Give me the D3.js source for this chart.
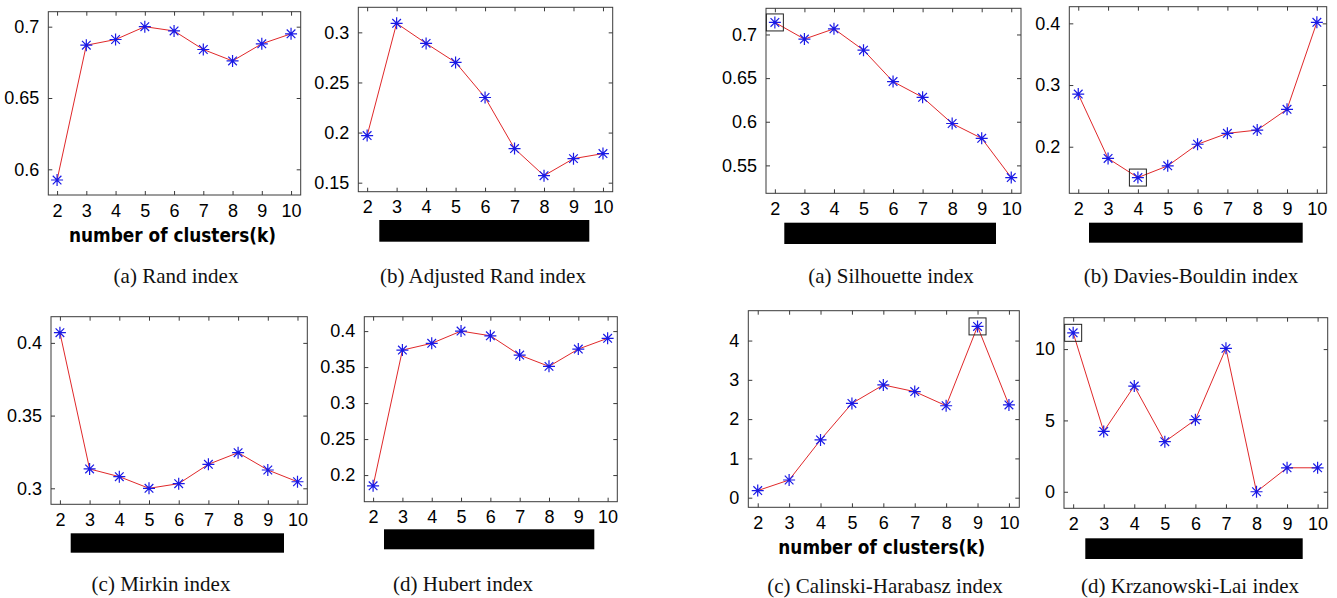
<!DOCTYPE html>
<html>
<head>
<meta charset="utf-8">
<script src="https://cdn.jsdelivr.net/npm/d3@7/dist/d3.min.js"></script>
<style>
  html, body { margin: 0; padding: 0; background: #fff; }
  svg { display: block; }
</style>
</head>
<body>
<svg id="chart" width="1337" height="598"></svg>
<script>
// Number of clusters evaluated
const kValues = [2, 3, 4, 5, 6, 7, 8, 9, 10];

// External validity indices
const randIndex = [0.5925, 0.687, 0.691, 0.700, 0.697, 0.684, 0.676, 0.688, 0.695];
const adjustedRand = [0.197, 0.309, 0.289, 0.270, 0.235, 0.184, 0.157, 0.174, 0.179];
const mirkinIndex = [0.407, 0.3133, 0.308, 0.300, 0.3032, 0.3165, 0.3245, 0.3126, 0.3045];
const hubertIndex = [0.185, 0.3736, 0.383, 0.400, 0.3935, 0.3667, 0.351, 0.375, 0.390];

// Internal validity indices
const silhouetteIndex = [0.7138, 0.6947, 0.7065, 0.682, 0.646, 0.628, 0.598, 0.581, 0.536];
const daviesBouldin = [0.2854, 0.181, 0.150, 0.169, 0.204, 0.2217, 0.227, 0.2607, 0.4016];
const calinskiHarabasz = [0.18, 0.45, 1.47, 2.40, 2.87, 2.70, 2.34, 4.36, 2.36];
const krzanowskiLai = [11.14, 4.23, 7.41, 3.51, 5.05, 10.05, 0.0, 1.68, 1.68];

// Tick labels on the value axes
const randTicks = [0.6, 0.65, 0.7];
const adjustedRandTicks = [0.15, 0.2, 0.25, 0.3];
const mirkinTicks = [0.3, 0.35, 0.4];
const hubertTicks = [0.2, 0.25, 0.3, 0.35, 0.4];
const silhouetteTicks = [0.55, 0.6, 0.65, 0.7];
const daviesBouldinTicks = [0.2, 0.3, 0.4];
const calinskiTicks = [0, 1, 2, 3, 4];
const krzanowskiTicks = [0, 5, 10];

// Panel captions
const captions = [
  "(a) Rand index", "(b) Adjusted Rand index", "(c) Mirkin index", "(d) Hubert index",
  "(a) Silhouette index", "(b) Davies-Bouldin index", "(c) Calinski-Harabasz index", "(d) Krzanowski-Lai index"
];
const xAxisTitle = "number of clusters(k)";

// Panel layout: plot box, value range, and decorations
const panels = [
  { values: randIndex, ticks: randTicks, caption: captions[0],
    box: [48.3, 300.7, 11.7, 195], yDom: [0.582, 0.7105], title: true, bar: null,
    capX: 176, capY: 283, best: null },
  { values: adjustedRand, ticks: adjustedRandTicks, caption: captions[1],
    box: [358.3, 612.7, 7.3, 191.7], yDom: [0.141, 0.325], title: false,
    bar: [379.3, 220, 210, 21.7], capX: 483, capY: 283, best: null },
  { values: silhouetteIndex, ticks: silhouetteTicks, caption: captions[4],
    box: [766, 1021, 8.3, 193.3], yDom: [0.518, 0.730], title: false,
    bar: [784.3, 222.7, 211.7, 21.3], capX: 891, capY: 283, best: 0 },
  { values: daviesBouldin, ticks: daviesBouldinTicks, caption: captions[5],
    box: [1069.3, 1326.7, 6.7, 193.3], yDom: [0.1245, 0.427], title: false,
    bar: [1089, 222.7, 213.7, 20], capX: 1191, capY: 283, best: 2 },
  { values: mirkinIndex, ticks: mirkinTicks, caption: captions[2],
    box: [51, 307.3, 316.7, 504.3], yDom: [0.289, 0.418], title: false,
    bar: [70.7, 533.3, 213.3, 19.4], capX: 161, capY: 591, best: null },
  { values: hubertIndex, ticks: hubertTicks, caption: captions[3],
    box: [364.3, 617.3, 316.7, 501.7], yDom: [0.163, 0.42], title: false,
    bar: [384, 529.3, 210.3, 20], capX: 463, capY: 591, best: null },
  { values: calinskiHarabasz, ticks: calinskiTicks, caption: captions[6],
    box: [748.3, 1019.3, 310.7, 507.3], yDom: [-0.245, 4.76], title: true, bar: null,
    capX: 885, capY: 593, best: 7 },
  { values: krzanowskiLai, ticks: krzanowskiTicks, caption: captions[7],
    box: [1064, 1327.7, 317.7, 508.3], yDom: [-1.16, 12.2], title: false,
    bar: [1085.3, 538.3, 217.4, 20.7], capX: 1190, capY: 593, best: 0 }
];

const svg = d3.select("#chart");
const axisColor = "#3a3a3a";
const lineColor = "#e0282a";
const markColor = "#1a1ae6";
const tickFont = "'Liberation Sans', Arial, sans-serif";

// MATLAB-style asterisk marker: a plus overlaid with a cross
function asterisk(r) {
  const d = r * 0.72;
  return `M${-r},0L${r},0M0,${-r}L0,${r}M${-d},${-d}L${d},${d}M${-d},${d}L${d},${-d}`;
}

panels.forEach(p => {
  const [x0, x1, y0, y1] = p.box;
  const x = d3.scaleLinear().domain([1.7, 10.33]).range([x0, x1]);
  const y = d3.scaleLinear().domain(p.yDom).range([y1, y0]);
  const g = svg.append("g");

  // Plot frame
  g.append("rect")
    .attr("x", x0).attr("y", y0)
    .attr("width", x1 - x0).attr("height", y1 - y0)
    .attr("fill", "#fff").attr("stroke", axisColor).attr("stroke-width", 1);

  // Axes with inward ticks on all four sides
  const styleAxis = sel => {
    sel.select(".domain").remove();
    sel.selectAll(".tick line").attr("stroke", axisColor);
    sel.selectAll(".tick text")
      .attr("fill", "#000")
      .style("font-family", tickFont)
      .style("font-size", "18px");
  };
  g.append("g").attr("transform", `translate(0,${y1})`)
    .call(d3.axisBottom(x).tickValues(kValues).tickSizeInner(-4).tickSizeOuter(0).tickPadding(9).tickFormat(d3.format("d")))
    .call(styleAxis);
  g.append("g").attr("transform", `translate(0,${y0})`)
    .call(d3.axisTop(x).tickValues(kValues).tickSizeInner(-4).tickSizeOuter(0).tickFormat(""))
    .call(styleAxis);
  g.append("g").attr("transform", `translate(${x0},0)`)
    .call(d3.axisLeft(y).tickValues(p.ticks).tickSizeInner(-4).tickSizeOuter(0).tickPadding(9).tickFormat(d => String(d)))
    .call(styleAxis);
  g.append("g").attr("transform", `translate(${x1},0)`)
    .call(d3.axisRight(y).tickValues(p.ticks).tickSizeInner(-4).tickSizeOuter(0).tickFormat(""))
    .call(styleAxis);

  // Index curve
  const pts = kValues.map((k, i) => [k, p.values[i]]);
  g.append("path")
    .datum(pts)
    .attr("fill", "none")
    .attr("stroke", lineColor)
    .attr("stroke-width", 1)
    .attr("d", d3.line().x(d => x(d[0])).y(d => y(d[1])));

  g.selectAll(".mark")
    .data(pts)
    .join("path")
    .attr("class", "mark")
    .attr("transform", d => `translate(${x(d[0])},${y(d[1])})`)
    .attr("d", asterisk(6))
    .attr("fill", "none")
    .attr("stroke", markColor)
    .attr("stroke-width", 1.2);

  // Box around the optimal number of clusters
  if (p.best !== null) {
    const bx = x(kValues[p.best]), by = y(p.values[p.best]);
    g.append("rect")
      .attr("x", bx - 8.5).attr("y", by - 8.5)
      .attr("width", 17).attr("height", 17)
      .attr("fill", "none").attr("stroke", "#222").attr("stroke-width", 1);
  }

  // Axis title or blacked-out title bar
  if (p.title) {
    g.append("text")
      .attr("x", (x0 + x1) / 2 - 2)
      .attr("y", y1 + 47)
      .attr("text-anchor", "middle")
      .attr("textLength", 207)
      .attr("lengthAdjust", "spacingAndGlyphs")
      .style("font-family", "'DejaVu Sans', sans-serif")
      .style("font-weight", "bold")
      .style("font-size", "19px")
      .attr("fill", "#000")
      .text(xAxisTitle);
  }
  if (p.bar) {
    g.append("rect")
      .attr("x", p.bar[0]).attr("y", p.bar[1])
      .attr("width", p.bar[2]).attr("height", p.bar[3])
      .attr("fill", "#000");
  }

  // Caption
  g.append("text")
    .attr("x", p.capX).attr("y", p.capY)
    .attr("text-anchor", "middle")
    .style("font-family", "'Liberation Serif', 'Times New Roman', serif")
    .style("font-size", "21px")
    .attr("fill", "#111")
    .text(p.caption);
});
</script>
</body>
</html>
